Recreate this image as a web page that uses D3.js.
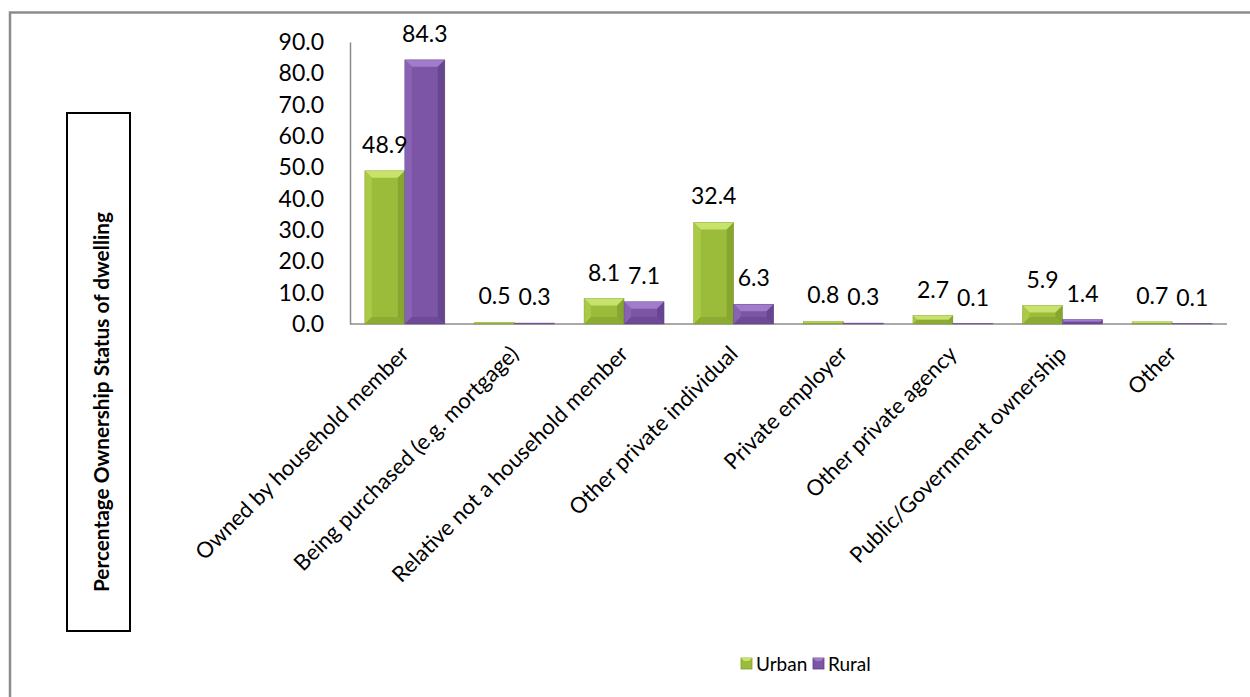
<!DOCTYPE html>
<html><head><meta charset="utf-8">
<script src="https://cdn.jsdelivr.net/npm/d3@7"></script>
<style>body{margin:0;background:#fff}svg{display:block}text{font-family:Lato,"Open Sans",sans-serif}</style>
</head><body><svg id="c" width="1250" height="697"></svg>
<script>
const categories = ["Owned by household member","Being purchased (e.g. mortgage)","Relative not a household member","Other private individual","Private employer","Other private agency","Public/Government ownership","Other"];
const urban = [48.9,0.5,8.1,32.4,0.8,2.7,5.9,0.7];
const rural = [84.3,0.3,7.1,6.3,0.3,0.1,1.4,0.1];
const seriesNames = ["Urban","Rural"];
const yTicks = [0,10,20,30,40,50,60,70,80,90];
const yTitle = "Percentage Ownership Status of dwelling";

const svg = d3.select("#c");
const colors = {Urban:{base:"#9bbb3b",light:"#b9d95a",lighter:"#c7e36c",dark:"#7f9c2c",side:"#a9c947"},
                Rural:{base:"#7c55a6",light:"#9470bf",lighter:"#a07ccb",dark:"#5e3e86",side:"#8863b3"}};

// outer frame
svg.append("path").attr("d","M10,697 V12.5 H1250").attr("fill","none").attr("stroke","#8c8c8c").attr("stroke-width",2.5);

const x0 = 350, x1 = 1227, yTop = 42, yBot = 324;
const x = d3.scaleBand().domain(categories).range([x0,x1]).paddingInner(0.27).paddingOuter(0.135);
const xs = d3.scaleBand().domain(seriesNames).range([0,x.bandwidth()]);
const y = d3.scaleLinear().domain([0,90]).range([yBot,yTop]);

// y axis
const ya = svg.append("g").attr("transform",`translate(${x0},0)`).call(d3.axisLeft(y).tickValues(yTicks).tickSize(0).tickPadding(26).tickFormat(d3.format(".1f")));
ya.select(".domain").attr("stroke","#8c8c8c").attr("stroke-width",1.5);
ya.selectAll("text").attr("font-size",23).attr("fill","#000");

// x axis
const xa = svg.append("g").attr("transform",`translate(0,${yBot})`).call(d3.axisBottom(x).tickSize(0).tickPadding(0));
xa.select(".domain").attr("stroke","#8c8c8c").attr("stroke-width",1.5).attr("d",`M${x0},0H${x1}`);
xa.selectAll("text").attr("font-size",22).attr("fill","#000").attr("text-anchor","end")
  .attr("transform","translate(0,26) rotate(-45)").attr("dy","0.35em").attr("x",0).attr("y",0);

// bars
const data = [];
categories.forEach((c,i)=>{data.push({c,s:"Urban",v:urban[i]});data.push({c,s:"Rural",v:rural[i]});});
const g = svg.append("g");
data.forEach(d=>{
  const bx = x(d.c)+xs(d.s), bw = xs.bandwidth(), by = y(d.v), bh = yBot-by;
  const col = colors[d.s];
  const b = Math.min(7, bh/2, bw/2);
  const gg = g.append("g");
  gg.append("rect").attr("x",bx).attr("y",by).attr("width",bw).attr("height",bh).attr("fill",col.base);
  if (b>0.6){
    gg.append("polygon").attr("points",`${bx},${by} ${bx+bw},${by} ${bx+bw-b},${by+b} ${bx+b},${by+b}`).attr("fill",col.lighter);
    gg.append("polygon").attr("points",`${bx},${by} ${bx+b},${by+b} ${bx+b},${yBot-b} ${bx},${yBot}`).attr("fill",col.side);
    gg.append("polygon").attr("points",`${bx+bw},${by} ${bx+bw-b},${by+b} ${bx+bw-b},${yBot-b} ${bx+bw},${yBot}`).attr("fill",col.dark).attr("opacity",0.7);
    gg.append("polygon").attr("points",`${bx},${yBot} ${bx+b},${yBot-b} ${bx+bw-b},${yBot-b} ${bx+bw},${yBot}`).attr("fill",col.dark).attr("opacity",0.5);
  }
  gg.append("rect").attr("x",bx).attr("y",by).attr("width",bw).attr("height",bh).attr("fill","none").attr("stroke",col.dark).attr("stroke-width",0.6).attr("opacity",0.6);
  svg.append("text").attr("x",bx+bw/2).attr("y",by-18).attr("text-anchor","middle").attr("font-size",23).attr("fill","#000").text(d3.format(".1f")(d.v));
});

// y title box
svg.append("rect").attr("x",67).attr("y",113).attr("width",63).attr("height",518).attr("fill","#fff").attr("stroke","#000").attr("stroke-width",2);
svg.append("text").attr("transform","translate(102,402) rotate(-90)").attr("text-anchor","middle").attr("dy","0.35em")
  .attr("font-size",20.8).attr("font-weight","bold").attr("fill","#000").text(yTitle);

// legend
const leg = svg.append("g");
const legX = [741,813];
seriesNames.forEach((s,i)=>{
  const col = colors[s];
  leg.append("rect").attr("x",legX[i]).attr("y",658).attr("width",11).attr("height",11).attr("fill",col.base).attr("stroke",col.dark).attr("stroke-width",0.8);
  leg.append("polygon").attr("points",`${legX[i]},658 ${legX[i]+11},658 ${legX[i]+8},661 ${legX[i]+3},661`).attr("fill",col.lighter);
  leg.append("text").attr("x",legX[i]+15).attr("y",664).attr("dy","0.35em").attr("font-size",19).attr("fill","#000").text(s);
});
</script></body></html>
